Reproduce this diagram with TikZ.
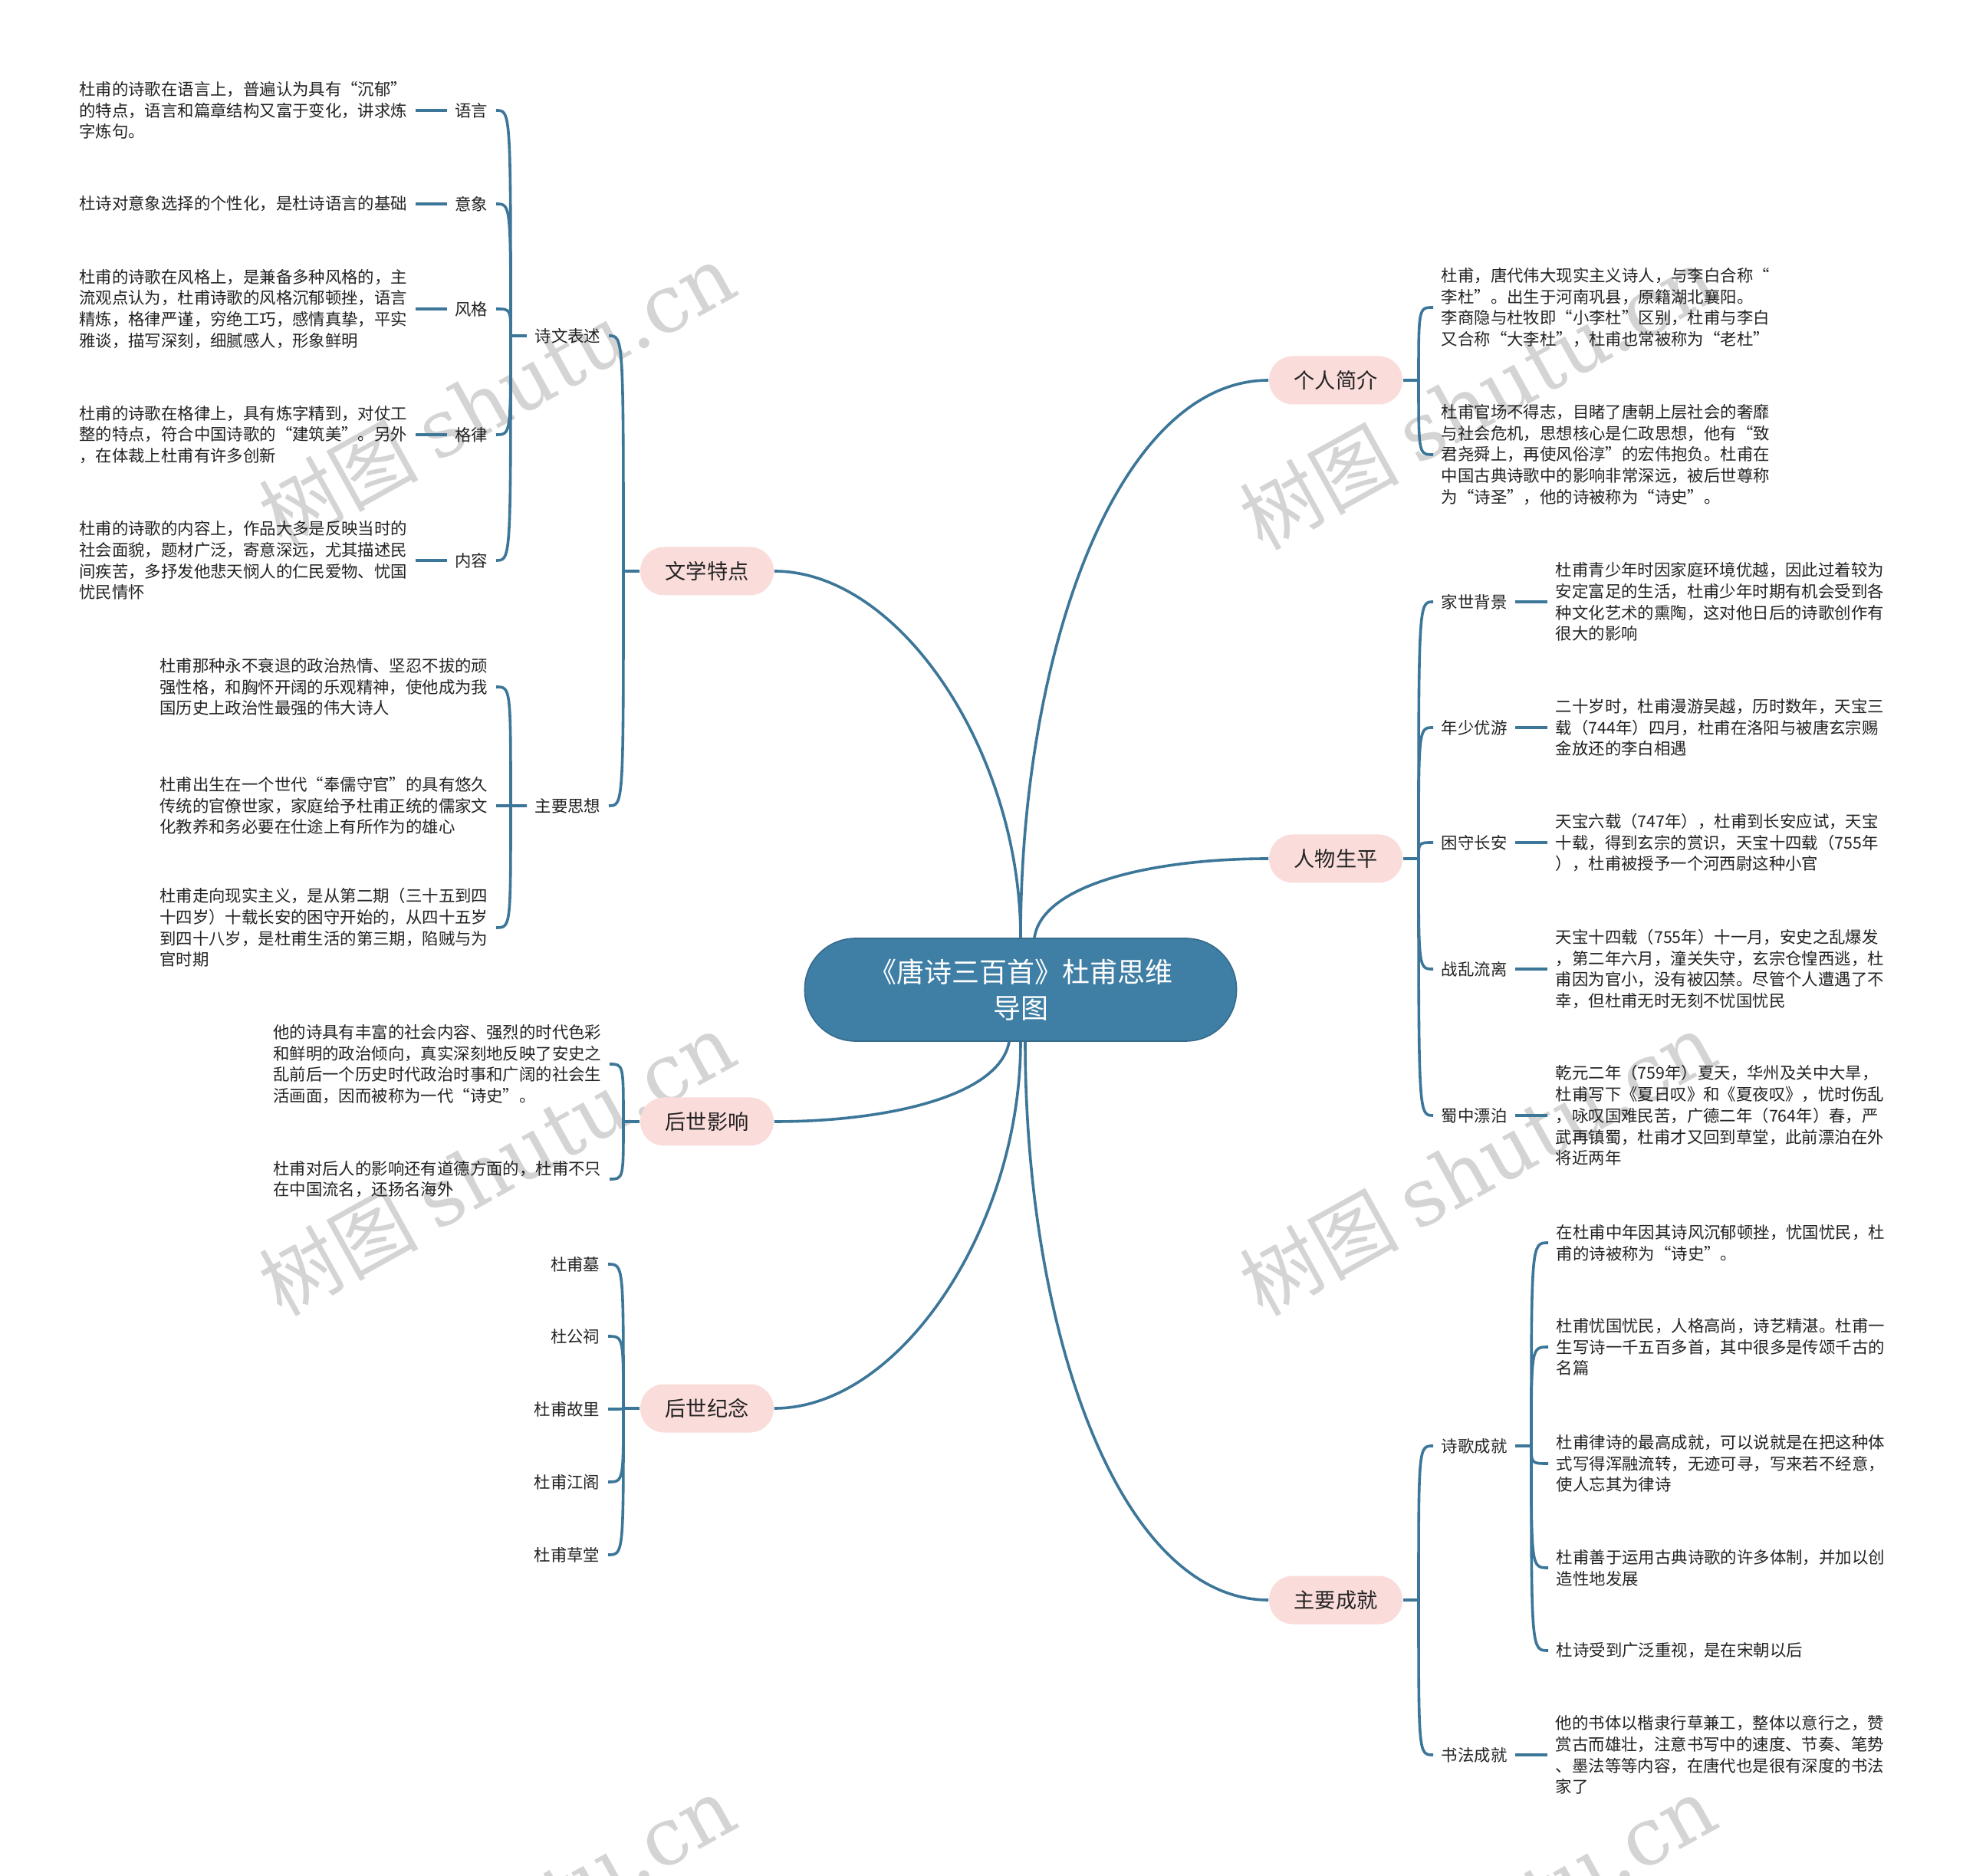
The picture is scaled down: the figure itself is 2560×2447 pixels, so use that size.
\documentclass[tikz,border=0pt]{standalone}
\usepackage{fontspec}
\setmainfont{Noto Sans CJK SC}
\newfontfamily\wmlatin{DejaVu Serif}
\usetikzlibrary{calc}
\definecolor{linec}{RGB}{60,118,152}
\definecolor{rootc}{RGB}{63,126,165}
\definecolor{pinkc}{RGB}{250,220,218}
\definecolor{txtc}{RGB}{35,35,35}
\definecolor{wmc}{RGB}{212,212,212}
\newcommand\leaffont{\fontsize{5.35pt}{6.95pt}\selectfont}
\newcommand\brfont{\fontsize{6.8pt}{8pt}\selectfont}
\newcommand\rootfont{\fontsize{9pt}{11.8pt}\selectfont}
\newcommand\wmfont{\fontsize{26pt}{30pt}\selectfont}
\begin{document}
\begin{tikzpicture}[x=0.25pt,y=-0.25pt,
  conn/.style={draw=linec, line width=0.9pt},
  leaf/.style={font=\leaffont, text=txtc, align=left, inner xsep=2.5pt, inner ysep=1pt},
  lab/.style={font=\leaffont, text=txtc, inner xsep=2.5pt, inner ysep=1pt},
  branch/.style={fill=pinkc, rounded corners=7.8pt, minimum width=43.5pt, minimum height=15.75pt, font=\brfont, text=txtc, inner sep=0pt},
  root/.style={fill=rootc, draw=rootc!85!black, line width=0.4pt, rounded corners=16.5pt, minimum width=140.75pt, minimum height=33.5pt, font=\rootfont, text=white, align=center},
  wm/.style={text=wmc, font=\wmfont, rotate=29, inner sep=0pt}
]
\fill[white] (0,0) rectangle (2560,2447);
\useasboundingbox (0,0) rectangle (2560,2447);

% watermarks
\begin{scope}
\clip (0,0) rectangle (2560,2447);
\node[wm] (wm1) at (648,515) {树图 {\wmlatin shutu.cn}};
\node[wm] (wm2) at (1927,519) {树图 {\wmlatin shutu.cn}};
\node[wm] (wm3) at (648,1518) {树图 {\wmlatin shutu.cn}};
\node[wm] (wm4) at (1927,1518) {树图 {\wmlatin shutu.cn}};
\node[wm] (wm5) at (648,2514) {树图 {\wmlatin shutu.cn}};
\node[wm] (wm6) at (1927,2514) {树图 {\wmlatin shutu.cn}};
\end{scope}

% root and main branches
\node[root] (c) at (1331,1291) {《唐诗三百首》杜甫思维\\导图};
\node[branch] (wx) at (922,745) {文学特点};
\node[branch] (yx) at (922,1463) {后世影响};
\node[branch] (jn) at (922,1837) {后世纪念};
\node[branch] (gr) at (1742,496) {个人简介};
\node[branch] (sp) at (1742,1120) {人物生平};
\node[branch] (cj) at (1742,2087) {主要成就};

\draw[conn] (wx.east) .. controls +(165,0) and +(0,-240) .. (c.north);
\draw[conn] (gr.west) .. controls +(-196,0) and +(0,-375) .. (c.north);
\draw[conn] (sp.west) .. controls +(-150,0) and +(10,-70) .. ($(c.north)+(18,0)$);
\draw[conn] (yx.east) .. controls +(150,0) and +(-12,70) .. ($(c.south)+(-15,0)$);
\draw[conn] (jn.east) .. controls +(165,0) and +(0,240) .. (c.south);
\draw[conn] (cj.west) .. controls +(-196,0) and +(0,375) .. ($(c.south)+(6,0)$);

% ---------- 文学特点 ----------
\node[lab, anchor=east] (sw) at (794,438) {诗文表述};
\node[lab, anchor=east] (zs) at (794,1051) {主要思想};
\coordinate (jwx) at (813,745);
\draw[conn] (wx.west) -- (jwx);
\draw[conn] (jwx) .. controls (jwx |- sw.east) .. (sw.east);
\draw[conn] (jwx) .. controls (jwx |- zs.east) .. (zs.east);

\coordinate (jsw) at (666,438);
\draw[conn] (sw.west) -- (jsw);
\node[lab, anchor=east] (yy) at (647,144) {语言};
\node[lab, anchor=east] (yxg) at (647,266) {意象};
\node[lab, anchor=east] (fg) at (647,403) {风格};
\node[lab, anchor=east] (gl) at (647,567) {格律};
\node[lab, anchor=east] (nr) at (647,731) {内容};
\node[leaf, anchor=east] (yyL) at (542,144) {杜甫的诗歌在语言上，普遍认为具有“沉郁”\\的特点，语言和篇章结构又富于变化，讲求炼\\字炼句。};
\node[leaf, anchor=east] (yxgL) at (542,266) {杜诗对意象选择的个性化，是杜诗语言的基础};
\node[leaf, anchor=east] (fgL) at (542,403) {杜甫的诗歌在风格上，是兼备多种风格的，主\\流观点认为，杜甫诗歌的风格沉郁顿挫，语言\\精炼，格律严谨，穷绝工巧，感情真挚，平实\\雅谈，描写深刻，细腻感人，形象鲜明};
\node[leaf, anchor=east] (glL) at (542,567) {杜甫的诗歌在格律上，具有炼字精到，对仗工\\整的特点，符合中国诗歌的“建筑美”。另外\\，在体裁上杜甫有许多创新};
\node[leaf, anchor=east] (nrL) at (542,731) {杜甫的诗歌的内容上，作品大多是反映当时的\\社会面貌，题材广泛，寄意深远，尤其描述民\\间疾苦，多抒发他悲天悯人的仁民爱物、忧国\\忧民情怀};
\foreach \n in {yy,yxg,fg,gl,nr}{
  \draw[conn] (jsw) .. controls (jsw |- \n.east) .. (\n.east);
  \draw[conn] (\n.west) -- (\n L.east);
}

\coordinate (jzs) at (666,1051);
\draw[conn] (zs.west) -- (jzs);
\node[leaf, anchor=east] (zs1) at (647,896) {杜甫那种永不衰退的政治热情、坚忍不拔的顽\\强性格，和胸怀开阔的乐观精神，使他成为我\\国历史上政治性最强的伟大诗人};
\node[leaf, anchor=east] (zs2) at (647,1051) {杜甫出生在一个世代“奉儒守官”的具有悠久\\传统的官僚世家，家庭给予杜甫正统的儒家文\\化教养和务必要在仕途上有所作为的雄心};
\node[leaf, anchor=east] (zs3) at (647,1210) {杜甫走向现实主义，是从第二期（三十五到四\\十四岁）十载长安的困守开始的，从四十五岁\\到四十八岁，是杜甫生活的第三期，陷贼与为\\官时期};
\foreach \n in {zs1,zs2,zs3}{
  \draw[conn] (jzs) .. controls (jzs |- \n.east) .. (\n.east);
}

% ---------- 后世影响 ----------
\coordinate (jyx) at (813,1463);
\draw[conn] (yx.west) -- (jyx);
\node[leaf, anchor=east] (yx1) at (795,1388) {他的诗具有丰富的社会内容、强烈的时代色彩\\和鲜明的政治倾向，真实深刻地反映了安史之\\乱前后一个历史时代政治时事和广阔的社会生\\活画面，因而被称为一代“诗史”。};
\node[leaf, anchor=east] (yx2) at (795,1538) {杜甫对后人的影响还有道德方面的，杜甫不只\\在中国流名，还扬名海外};
\foreach \n in {yx1,yx2}{
  \draw[conn] (jyx) .. controls (jyx |- \n.east) .. (\n.east);
}

% ---------- 后世纪念 ----------
\coordinate (jjn) at (813,1837);
\draw[conn] (jn.west) -- (jjn);
\node[lab, anchor=east] (jn1) at (793,1649) {杜甫墓};
\node[lab, anchor=east] (jn2) at (793,1743) {杜公祠};
\node[lab, anchor=east] (jn3) at (793,1838) {杜甫故里};
\node[lab, anchor=east] (jn4) at (793,1933) {杜甫江阁};
\node[lab, anchor=east] (jn5) at (793,2028) {杜甫草堂};
\foreach \n in {jn1,jn2,jn3,jn4,jn5}{
  \draw[conn] (jjn) .. controls (jjn |- \n.east) .. (\n.east);
}

% ---------- 个人简介 ----------
\coordinate (jgr) at (1850,496);
\draw[conn] (gr.east) -- (jgr);
\node[leaf, anchor=west] (gr1) at (1869,401) {杜甫，唐代伟大现实主义诗人，与李白合称“\\李杜”。出生于河南巩县，原籍湖北襄阳。\\李商隐与杜牧即“小李杜”区别，杜甫与李白\\又合称“大李杜”，杜甫也常被称为“老杜”};
\node[leaf, anchor=west] (gr2) at (1869,593) {杜甫官场不得志，目睹了唐朝上层社会的奢靡\\与社会危机，思想核心是仁政思想，他有“致\\君尧舜上，再使风俗淳”的宏伟抱负。杜甫在\\中国古典诗歌中的影响非常深远，被后世尊称\\为“诗圣”，他的诗被称为“诗史”。};
\foreach \n in {gr1,gr2}{
  \draw[conn] (jgr) .. controls (jgr |- \n.west) .. (\n.west);
}

% ---------- 人物生平 ----------
\coordinate (jsp) at (1850,1120);
\draw[conn] (sp.east) -- (jsp);
\node[lab, anchor=west] (sp1) at (1869,785) {家世背景};
\node[lab, anchor=west] (sp2) at (1869,949) {年少优游};
\node[lab, anchor=west] (sp3) at (1869,1099) {困守长安};
\node[lab, anchor=west] (sp4) at (1869,1264) {战乱流离};
\node[lab, anchor=west] (sp5) at (1869,1455) {蜀中漂泊};
\node[leaf, anchor=west] (sp1L) at (2018,785) {杜甫青少年时因家庭环境优越，因此过着较为\\安定富足的生活，杜甫少年时期有机会受到各\\种文化艺术的熏陶，这对他日后的诗歌创作有\\很大的影响};
\node[leaf, anchor=west] (sp2L) at (2018,949) {二十岁时，杜甫漫游吴越，历时数年，天宝三\\载（744年）四月，杜甫在洛阳与被唐玄宗赐\\金放还的李白相遇};
\node[leaf, anchor=west] (sp3L) at (2018,1099) {天宝六载（747年），杜甫到长安应试，天宝\\十载，得到玄宗的赏识，天宝十四载（755年\\），杜甫被授予一个河西尉这种小官};
\node[leaf, anchor=west] (sp4L) at (2018,1264) {天宝十四载（755年）十一月，安史之乱爆发\\，第二年六月，潼关失守，玄宗仓惶西逃，杜\\甫因为官小，没有被囚禁。尽管个人遭遇了不\\幸，但杜甫无时无刻不忧国忧民};
\node[leaf, anchor=west] (sp5L) at (2018,1455) {乾元二年（759年）夏天，华州及关中大旱，\\杜甫写下《夏日叹》和《夏夜叹》，忧时伤乱\\，咏叹国难民苦，广德二年（764年）春，严\\武再镇蜀，杜甫才又回到草堂，此前漂泊在外\\将近两年};
\foreach \n in {sp1,sp2,sp3,sp4,sp5}{
  \draw[conn] (jsp) .. controls (jsp |- \n.west) .. (\n.west);
  \draw[conn] (\n.east) -- (\n L.west);
}

% ---------- 主要成就 ----------
\coordinate (jcj) at (1850,2087);
\draw[conn] (cj.east) -- (jcj);
\node[lab, anchor=west] (sg) at (1869,1886) {诗歌成就};
\node[lab, anchor=west] (sf) at (1869,2289) {书法成就};
\draw[conn] (jcj) .. controls (jcj |- sg.west) .. (sg.west);
\draw[conn] (jcj) .. controls (jcj |- sf.west) .. (sf.west);
\coordinate (jsg) at (1997,1886);
\draw[conn] (sg.east) -- (jsg);
\node[leaf, anchor=west] (sg1) at (2019,1621) {在杜甫中年因其诗风沉郁顿挫，忧国忧民，杜\\甫的诗被称为“诗史”。};
\node[leaf, anchor=west] (sg2) at (2019,1757) {杜甫忧国忧民，人格高尚，诗艺精湛。杜甫一\\生写诗一千五百多首，其中很多是传颂千古的\\名篇};
\node[leaf, anchor=west] (sg3) at (2019,1909) {杜甫律诗的最高成就，可以说就是在把这种体\\式写得浑融流转，无迹可寻，写来若不经意，\\使人忘其为律诗};
\node[leaf, anchor=west] (sg4) at (2019,2045) {杜甫善于运用古典诗歌的许多体制，并加以创\\造性地发展};
\node[leaf, anchor=west] (sg5) at (2019,2153) {杜诗受到广泛重视，是在宋朝以后};
\foreach \n in {sg1,sg2,sg3,sg4,sg5}{
  \draw[conn] (jsg) .. controls (jsg |- \n.west) .. (\n.west);
}
\node[leaf, anchor=west] (sfL) at (2018,2289) {他的书体以楷隶行草兼工，整体以意行之，赞\\赏古而雄壮，注意书写中的速度、节奏、笔势\\、墨法等等内容，在唐代也是很有深度的书法\\家了};
\draw[conn] (sf.east) -- (sfL.west);
\end{tikzpicture}
\end{document}
